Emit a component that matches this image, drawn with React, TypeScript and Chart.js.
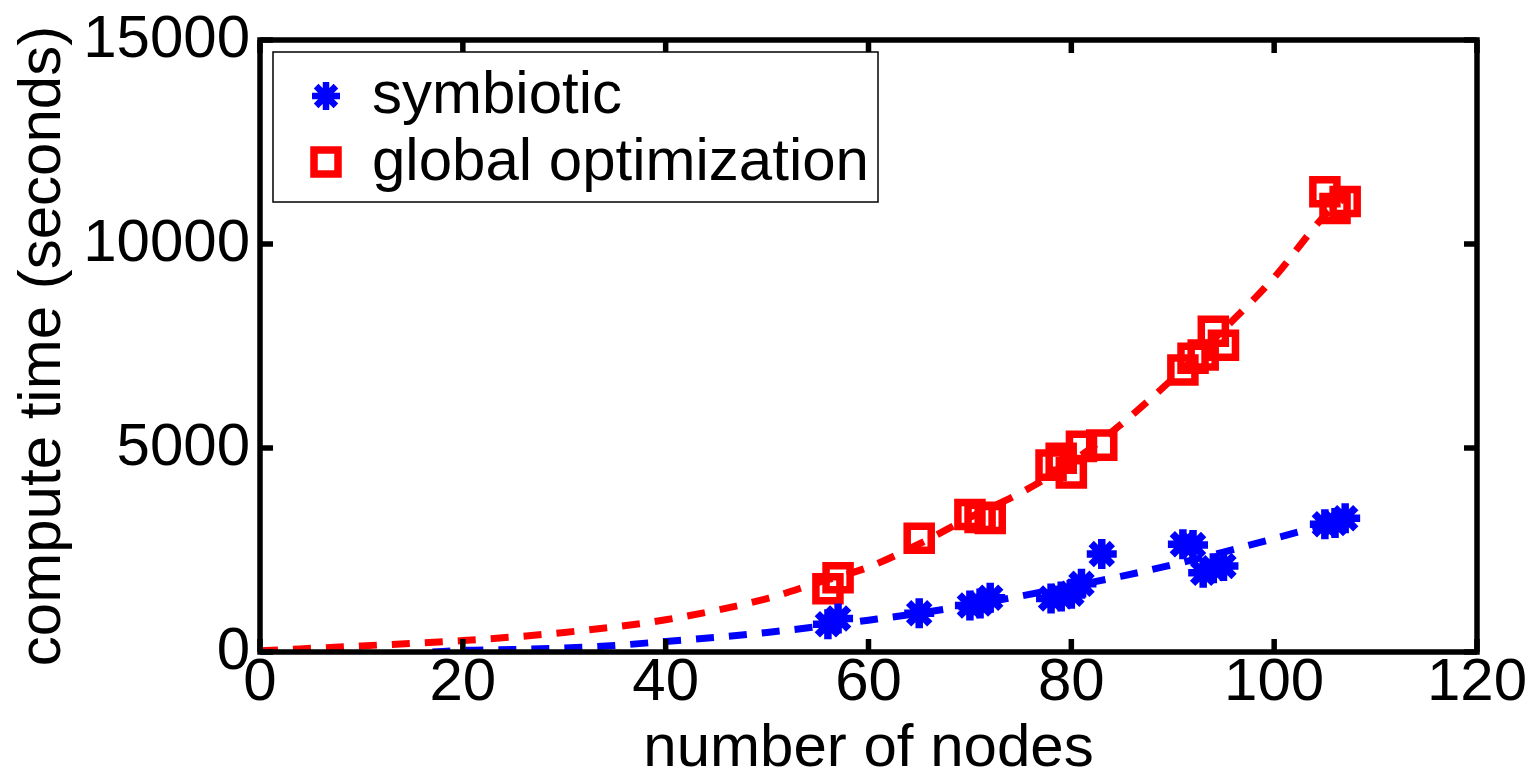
import React, { useEffect, useRef } from 'react';
import { Chart, registerables } from 'chart.js';

Chart.register(...registerables);

// ---- data ----
const xTickValues = [0, 20, 40, 60, 80, 100, 120];
const yTickValues = [0, 5000, 10000, 15000];
const seriesNames = ['symbiotic', 'global optimization'];
const xTitle = 'number of nodes';
const yTitle = 'compute time (seconds)';

const nodes = [56, 57, 65, 70, 71, 72, 78, 79, 80, 81, 83, 91, 92, 93, 94, 95, 105, 106, 107];
const symbioticTime = [680, 820, 950, 1140, 1190, 1330, 1310, 1360, 1430, 1670, 2400, 2640, 2620, 1940, 2050, 2110, 3130, 3160, 3280];
const globalTime = [1550, 1820, 2790, 3370, 3300, 3270, 4580, 4750, 4390, 5040, 5070, 6910, 7200, 7280, 7860, 7520, 11280, 10870, 11040];

const symbioticFitNodes = [17, 20, 25, 30, 35, 40, 45, 50, 55, 60, 65, 70, 75, 80, 85, 90, 95, 100, 105, 107];
const symbioticFitTime = [0, 40, 60, 100, 160, 260, 360, 480, 620, 780, 950, 1150, 1370, 1610, 1860, 2140, 2450, 2780, 3120, 3260];
const globalFitNodes = [0, 10, 20, 30, 40, 50, 55, 60, 65, 70, 75, 80, 85, 90, 95, 100, 105, 107];
const globalFitTime = [30, 150, 280, 480, 790, 1310, 1700, 2080, 2650, 3300, 3900, 4650, 5600, 6700, 7900, 9180, 10700, 11150];

const BLUE = '#0000ff';
const RED = '#ff0000';
const FONT = '"Liberation Sans", Arial, Helvetica, sans-serif';
const FS = 60;

const toPoints = (xs: number[], ys: number[]) => xs.map((x, i) => ({ x, y: ys[i] }));

function drawStar(ctx: CanvasRenderingContext2D, x: number, y: number, r: number, lw: number, color: string) {
  ctx.save();
  ctx.strokeStyle = color;
  ctx.lineWidth = lw;
  ctx.beginPath();
  for (let k = 0; k < 4; k++) {
    const a = (k * Math.PI) / 4;
    ctx.moveTo(x - Math.cos(a) * r, y - Math.sin(a) * r);
    ctx.lineTo(x + Math.cos(a) * r, y + Math.sin(a) * r);
  }
  ctx.stroke();
  ctx.restore();
}

function drawSquare(ctx: CanvasRenderingContext2D, x: number, y: number, h: number, lw: number, color: string) {
  ctx.save();
  ctx.strokeStyle = color;
  ctx.lineWidth = lw;
  ctx.strokeRect(x - h, y - h, 2 * h, 2 * h);
  ctx.restore();
}

const framePlugin = {
  id: 'matlabFrame',
  afterDatasetsDraw(chart: any) {
    const { ctx, chartArea, scales } = chart;
    const { left, right, top, bottom } = chartArea;
    ctx.save();
    ctx.strokeStyle = '#000';
    ctx.lineWidth = 5.5;
    const tl = 13;
    ctx.beginPath();
    scales.x.ticks.forEach((t: any) => {
      const px = scales.x.getPixelForValue(t.value);
      ctx.moveTo(px, bottom);
      ctx.lineTo(px, bottom - tl);
      ctx.moveTo(px, top);
      ctx.lineTo(px, top + tl);
    });
    scales.y.ticks.forEach((t: any) => {
      const py = scales.y.getPixelForValue(t.value);
      ctx.moveTo(left, py);
      ctx.lineTo(left + tl, py);
      ctx.moveTo(right, py);
      ctx.lineTo(right - tl, py);
    });
    ctx.stroke();
    ctx.strokeRect(left, top, right - left, bottom - top);

    // legend box
    const x0 = left + 13;
    const y0 = top + 12;
    const w = 605;
    const h = 150;
    ctx.fillStyle = '#fff';
    ctx.fillRect(x0, y0, w, h);
    ctx.lineWidth = 1.5;
    ctx.strokeRect(x0, y0, w, h);
    drawStar(ctx, x0 + 53, y0 + 44, 14, 6.5, BLUE);
    drawSquare(ctx, x0 + 53, y0 + 110, 12, 7.5, RED);
    ctx.fillStyle = '#000';
    ctx.font = `${FS}px ${FONT}`;
    ctx.textBaseline = 'alphabetic';
    ctx.textAlign = 'left';
    ctx.fillText(seriesNames[0], x0 + 99, y0 + 61);
    ctx.fillText(seriesNames[1], x0 + 99, y0 + 128);
    ctx.restore();
  },
};

export default function App() {
  const canvasRef = useRef<HTMLCanvasElement | null>(null);

  useEffect(() => {
    if (!canvasRef.current) return;
    const chart = new Chart(canvasRef.current, {
      type: 'scatter',
      data: {
        datasets: [
          {
            type: 'scatter',
            label: seriesNames[0],
            data: toPoints(nodes, symbioticTime),
            pointStyle: 'star',
            pointRadius: 15,
            pointBorderWidth: 7.5,
            pointBorderColor: BLUE,
            pointBackgroundColor: 'rgba(0,0,0,0)',
            showLine: false,
          } as any,
          {
            type: 'scatter',
            label: seriesNames[1],
            data: toPoints(nodes, globalTime),
            pointStyle: 'rect',
            pointRadius: 17,
            pointBorderWidth: 7.5,
            pointBorderColor: RED,
            pointBackgroundColor: 'rgba(0,0,0,0)',
            showLine: false,
          } as any,
          {
            type: 'line',
            label: 'symbiotic fit',
            data: toPoints(symbioticFitNodes, symbioticFitTime),
            borderColor: BLUE,
            borderWidth: 7,
            borderDash: [18, 15],
            pointRadius: 0,
            fill: false,
            cubicInterpolationMode: 'monotone',
            borderCapStyle: 'butt',
          } as any,
          {
            type: 'line',
            label: 'global fit',
            data: toPoints(globalFitNodes, globalFitTime),
            borderColor: RED,
            borderWidth: 7,
            borderDash: [18, 15],
            pointRadius: 0,
            fill: false,
            cubicInterpolationMode: 'monotone',
            borderCapStyle: 'butt',
          } as any,
        ],
      },
      options: {
        responsive: false,
        animation: false,
        events: [],
        layout: { padding: { top: 33, right: 55, left: 0, bottom: 0 } },
        plugins: {
          legend: { display: false },
          tooltip: { enabled: false },
        },
        scales: {
          x: {
            type: 'linear',
            min: 0,
            max: 120,
            afterBuildTicks: (s: any) => {
              s.ticks = xTickValues.map((v) => ({ value: v }));
            },
            afterFit: (s: any) => {
              s.height = 121;
            },
            grid: { display: false, drawTicks: false },
            border: { display: false },
            ticks: {
              autoSkip: false,
              maxRotation: 0,
              padding: 1,
              color: '#000',
              callback: (v: any) => String(v),
              font: { family: FONT, size: FS, lineHeight: 1 },
            },
            title: {
              display: true,
              text: xTitle,
              color: '#000',
              padding: { top: 0, bottom: 0 },
              font: { family: FONT, size: FS, lineHeight: 0.8 },
            },
          },
          y: {
            type: 'linear',
            min: 0,
            max: 15000,
            afterBuildTicks: (s: any) => {
              s.ticks = yTickValues.map((v) => ({ value: v }));
            },
            afterFit: (s: any) => {
              s.width = 260;
            },
            grid: { display: false, drawTicks: false },
            border: { display: false },
            ticks: {
              autoSkip: false,
              padding: 10,
              color: '#000',
              callback: (v: any) => String(v),
              font: { family: FONT, size: FS, lineHeight: 1 },
            },
            title: {
              display: true,
              text: yTitle,
              color: '#000',
              padding: { top: 7, bottom: 0 },
              font: { family: FONT, size: FS, lineHeight: 1.2 },
            },
          },
        },
      },
      plugins: [framePlugin],
    });
    return () => chart.destroy();
  }, []);

  return (
    <div style={{ position: 'absolute', left: 0, top: 0, width: 1532, height: 773, background: '#fff' }}>
      <canvas ref={canvasRef} width={1532} height={773} />
    </div>
  );
}
